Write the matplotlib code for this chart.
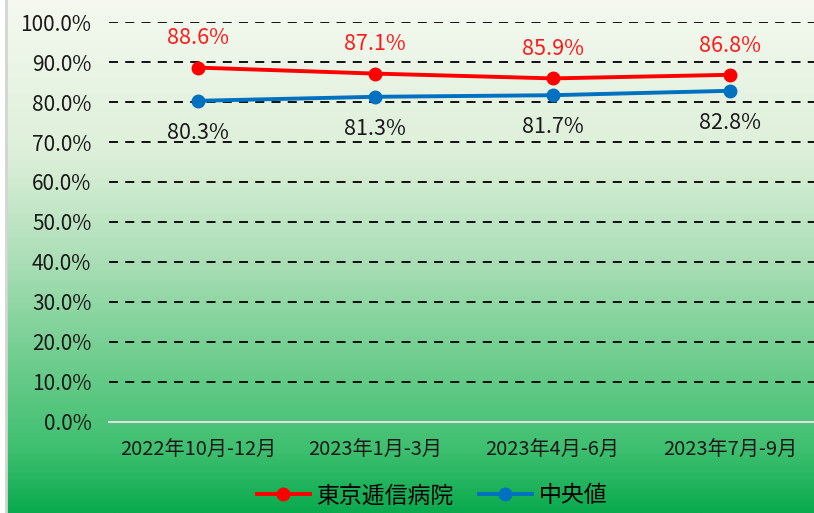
import numpy as np
import matplotlib.pyplot as plt
from matplotlib.colors import LinearSegmentedColormap

plt.rcParams['font.family'] = ['Noto Sans CJK JP', 'DejaVu Sans']

periods = ['2022年10月-12月', '2023年1月-3月', '2023年4月-6月', '2023年7月-9月']
hospital = [88.6, 87.1, 85.9, 86.8]
median = [80.3, 81.3, 81.7, 82.8]
series_names = ['東京逓信病院', '中央値']
y_ticks = [0, 10, 20, 30, 40, 50, 60, 70, 80, 90, 100]

W, H = 814, 513
fig = plt.figure(figsize=(W / 100, H / 100), dpi=100)
fig.patch.set_facecolor('white')

# gradient background panel
bg = fig.add_axes([6 / W, 0, 1 - 6 / W, 1], zorder=-2)
cmap = LinearSegmentedColormap.from_list('bg', [
    (0.0, '#F5F9F0'), (0.3, '#DDEFD9'), (0.5, '#ADDFB8'),
    (0.7, '#70CD8F'), (0.88, '#3DBF6F'), (1.0, '#0AAA4E')])
grad = np.linspace(0, 1, 256).reshape(-1, 1)
bg.imshow(grad, aspect='auto', cmap=cmap, extent=[0, 1, 1, 0])
bg.set_xlim(0, 1)
bg.set_ylim(1, 0)
bg.axis('off')
fig.add_artist(plt.Line2D([5.5 / W, 5.5 / W], [0, 1], color='#D4D4D4', lw=2))

ax = fig.add_axes([109.5 / W, 91 / H, 709 / W, 400 / H])
ax.patch.set_alpha(0)
x = np.arange(len(periods))

ax.yaxis.grid(True, color='black', linestyle=(0, (5, 4)), linewidth=1.3)
ax.set_axisbelow(True)

l1, = ax.plot(x, hospital, color='#FF0000', lw=2.8, marker='o', markersize=9,
              label=series_names[0], zorder=3)
l2, = ax.plot(x, median, color='#0070C0', lw=2.8, marker='o', markersize=9,
              label=series_names[1], zorder=3)

for xi, v in zip(x, hospital):
    ax.annotate(f'{v:.1f}%', (xi, v), xytext=(0, 21), textcoords='offset points',
                ha='center', va='center', color='#FF1A1A', fontsize=15.5)
for xi, v in zip(x, median):
    ax.annotate(f'{v:.1f}%', (xi, v), xytext=(0, -23), textcoords='offset points',
                ha='center', va='center', color='#1A1A1A', fontsize=15.5)

ax.set_xlim(-0.5, len(periods) - 0.5)
ax.set_ylim(0, 100)
ax.set_yticks(y_ticks)
ax.set_yticklabels([f'{t:.1f}%' for t in y_ticks], fontsize=15, color='#1A1A1A')
ax.set_xticks(x)
ax.set_xticklabels(periods, fontsize=14.5, color='#1A1A1A')
ax.tick_params(axis='y', length=0, pad=13)
ax.tick_params(axis='x', length=0, pad=13)

for s in ['top', 'right', 'left']:
    ax.spines[s].set_visible(False)
ax.spines['bottom'].set_color('#E0E0E0')
ax.spines['bottom'].set_linewidth(1.5)

fig.legend(handles=[l1, l2], loc='center', bbox_to_anchor=(432 / W, 1 - 496 / H),
           ncol=2, frameon=False, fontsize=16.5, handlelength=2.3,
           handletextpad=0.3, columnspacing=1.1)

fig.savefig('out.png', dpi=100)
